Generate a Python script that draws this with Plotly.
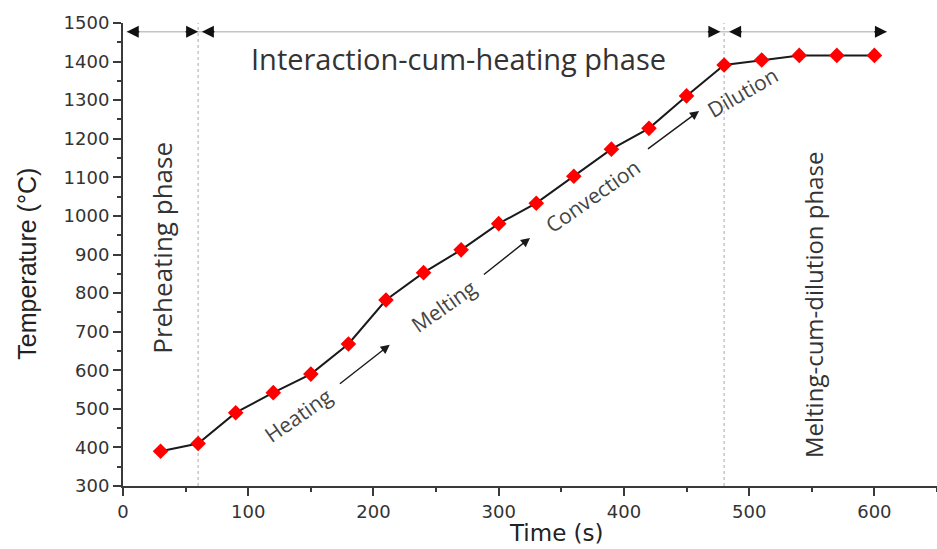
import plotly.graph_objects as go

# Measured temperature during the process
time_s = [30, 60, 90, 120, 150, 180, 210, 240, 270, 300,
          330, 360, 390, 420, 450, 480, 510, 540, 570, 600]
temperature_c = [390, 410, 490, 542, 590, 668, 782, 853, 912, 980,
                 1033, 1103, 1173, 1227, 1311, 1391, 1404, 1416, 1416, 1416]

# Phase boundaries (s) and the spans of the phases along the top
phase_bounds = [60, 480]
phase_span_y = 1477
phase_segments = [(3, 60), (63, 477), (484, 610)]

# Process stage labels: (text, x, y, angle)
stage_labels = [
    ("Heating", 140, 484, -35),
    ("Melting", 256, 767, -35),
    ("Convection", 375, 1052, -35),
    ("Dilution", 495, 1321, -30),
]
# Arrows between stages: (x_from, y_from, x_to, y_to)
stage_arrows = [
    (172, 562, 213, 666),
    (287, 845, 325, 943),
    (418, 1171, 460, 1272),
]

AX_COLOR = "#3a3a3a"
TXT_COLOR = "#333333"
LABEL_FONT = "Open Sans"
TICK_FONT = "DejaVu Sans"

fig = go.Figure()

fig.add_trace(go.Scatter(
    x=time_s, y=temperature_c, mode="lines+markers",
    line=dict(color="#1a1a1a", width=2),
    marker=dict(symbol="diamond", size=12, color="#ff0000",
                line=dict(width=0)),
    showlegend=False, hoverinfo="x+y",
))

shapes = []
# Dotted phase boundaries
for xb in phase_bounds:
    shapes.append(dict(type="line", xref="x", yref="y", x0=xb, x1=xb,
                       y0=300, y1=1500,
                       line=dict(color="#b8b8b8", width=1.2, dash="dot"),
                       layer="below"))
# Phase span line across the top
shapes.append(dict(type="line", xref="x", yref="y",
                   x0=phase_segments[0][0], x1=phase_segments[-1][1],
                   y0=phase_span_y, y1=phase_span_y,
                   line=dict(color="#c4c4c4", width=1.5)))

annotations = []
# Arrowheads at the ends of each phase span
for a, b in phase_segments:
    for tip, off in ((a, 14), (b, -14)):
        annotations.append(dict(
            x=tip, y=phase_span_y, xref="x", yref="y", ax=off, ay=0,
            text="", showarrow=True, arrowhead=2, arrowsize=1.6,
            arrowwidth=1.5, arrowcolor="#111111"))

annotations.append(dict(
    x=268, y=1409, xref="x", yref="y", text="Interaction-cum-heating phase",
    showarrow=False, font=dict(family=LABEL_FONT, size=29, color=TXT_COLOR)))
annotations.append(dict(
    x=31, y=917, xref="x", yref="y", text="Preheating phase", textangle=-90,
    showarrow=False, font=dict(family=LABEL_FONT, size=26, color=TXT_COLOR)))
annotations.append(dict(
    x=551, y=769, xref="x", yref="y", text="Melting-cum-dilution phase",
    textangle=-90, showarrow=False,
    font=dict(family=LABEL_FONT, size=24, color=TXT_COLOR)))

for text, x, y, ang in stage_labels:
    annotations.append(dict(
        x=x, y=y, xref="x", yref="y", text=text, textangle=ang,
        showarrow=False, font=dict(family=LABEL_FONT, size=21, color="#444444")))

for x0, y0, x1, y1 in stage_arrows:
    annotations.append(dict(
        x=x1, y=y1, ax=x0, ay=y0, xref="x", yref="y", axref="x", ayref="y",
        text="", showarrow=True, arrowhead=2, arrowsize=1.3, arrowwidth=1.4,
        arrowcolor="#1a1a1a"))

# Axis titles
annotations.append(dict(
    x=0.532, y=-0.101, xref="paper", yref="paper", text="Time (s)",
    showarrow=False, xanchor="center", yanchor="middle",
    font=dict(family=TICK_FONT, size=23, color="#222222")))
annotations.append(dict(
    x=-0.118, y=0.48, xref="paper", yref="paper", text="Temperature (°C)",
    textangle=-90, showarrow=False, xanchor="center", yanchor="middle",
    font=dict(family="Liberation Sans", size=25, color="#222222")))

fig.update_layout(
    width=937, height=549,
    margin=dict(l=123, r=0, t=23, b=63),
    paper_bgcolor="white", plot_bgcolor="white",
    shapes=shapes, annotations=annotations,
    xaxis=dict(
        range=[0, 650], tickvals=[0, 100, 200, 300, 400, 500, 600],
        showgrid=False, zeroline=False, showline=True, linecolor=AX_COLOR,
        linewidth=2, ticks="outside", ticklen=8, tickwidth=2,
        tickcolor=AX_COLOR,
        minor=dict(tickvals=[50, 150, 250, 350, 450, 550, 650],
                   ticks="outside", ticklen=4, tickwidth=2,
                   tickcolor=AX_COLOR),
        tickfont=dict(family=TICK_FONT, size=18, color=TXT_COLOR),
    ),
    yaxis=dict(
        range=[300, 1500], dtick=100, tick0=300,
        showgrid=False, zeroline=False, showline=True, linecolor=AX_COLOR,
        linewidth=2, ticks="outside", ticklen=8, tickwidth=2,
        tickcolor=AX_COLOR,
        minor=dict(dtick=50, ticks="outside", ticklen=4, tickwidth=2,
                   tickcolor=AX_COLOR),
        tickfont=dict(family=TICK_FONT, size=18, color=TXT_COLOR),
    ),
)

fig.write_html("out.html")
